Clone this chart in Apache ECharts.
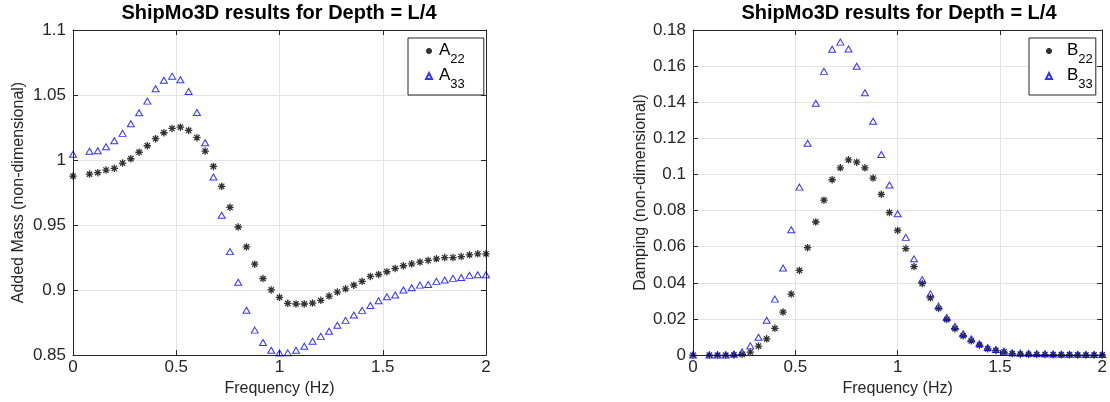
<!DOCTYPE html>
<html>
<head>
<meta charset="utf-8">
<title>ShipMo3D results for Depth = L/4</title>
<script src="https://cdn.jsdelivr.net/npm/echarts@6/dist/echarts.min.js"></script>
<style>
  html, body { margin: 0; padding: 0; background: #ffffff; }
  #chart { width: 1110px; height: 402px; }
</style>
</head>
<body>
<div id="chart"></div>
<script>
// Wave frequency (Hz) at which the coefficients were computed
const freq = [
  0, 0.08, 0.12, 0.16, 0.20, 0.24, 0.28, 0.32, 0.36, 0.40,
  0.44, 0.48, 0.52, 0.56, 0.60, 0.64, 0.68, 0.72, 0.76, 0.80,
  0.84, 0.88, 0.92, 0.96, 1.00, 1.04, 1.08, 1.12, 1.16, 1.20,
  1.24, 1.28, 1.32, 1.36, 1.40, 1.44, 1.48, 1.52, 1.56, 1.60,
  1.64, 1.68, 1.72, 1.76, 1.80, 1.84, 1.88, 1.92, 1.96, 2.00
];

// Added mass coefficients (non-dimensional)
const a22 = [
  0.9877, 0.9892, 0.9903, 0.9923, 0.9936, 0.9977, 1.0010, 1.0060, 1.0110, 1.0164,
  1.0210, 1.0243, 1.0253, 1.0228, 1.0172, 1.0069, 0.9951, 0.9798, 0.9636, 0.9485,
  0.9332, 0.9199, 0.9089, 0.9001, 0.8944, 0.8898, 0.8893, 0.8893, 0.8900, 0.8921,
  0.8954, 0.8985, 0.9010, 0.9038, 0.9067, 0.9105, 0.9120, 0.9141, 0.9166, 0.9187,
  0.9202, 0.9215, 0.9228, 0.9240, 0.9250, 0.9250, 0.9258, 0.9271, 0.9279, 0.9279
];
const a33 = [
  1.0044, 1.0067, 1.0072, 1.0102, 1.0148, 1.0205, 1.0279, 1.0364, 1.0453, 1.0548,
  1.0614, 1.0645, 1.0617, 1.0527, 1.0366, 1.0133, 0.9869, 0.9575, 0.9296, 0.9060,
  0.8845, 0.8692, 0.8597, 0.8537, 0.8516, 0.8517, 0.8537, 0.8568, 0.8606, 0.8644,
  0.8683, 0.8729, 0.8767, 0.8808, 0.8844, 0.8882, 0.8918, 0.8949, 0.8962, 0.9000,
  0.9018, 0.9038, 0.9043, 0.9067, 0.9077, 0.9090, 0.9097, 0.9113, 0.9118, 0.9118
];

// Damping coefficients (non-dimensional)
const b22 = [
  0, 0, 0, 0, 0.0001, 0.0004, 0.0017, 0.0050, 0.0090, 0.0148,
  0.0238, 0.0338, 0.0469, 0.0595, 0.0737, 0.0858, 0.0971, 0.1037, 0.1081, 0.1068,
  0.1037, 0.0980, 0.0890, 0.0789, 0.0690, 0.0590, 0.0490, 0.0396, 0.0317, 0.0258,
  0.0197, 0.0146, 0.0107, 0.0079, 0.0055, 0.0035, 0.0026, 0.0017, 0.0008, 0.0005,
  0.0004, 0.0003, 0.0003, 0.0002, 0.0002, 0.0002, 0.0001, 0.0001, 0.0001, 0.0001
];
const b33 = [
  0, 0, 0, 0, 0.0006, 0.0018, 0.0051, 0.0099, 0.0193, 0.0310,
  0.0482, 0.0694, 0.0930, 0.1173, 0.1394, 0.1571, 0.1693, 0.1733, 0.1695, 0.1599,
  0.1453, 0.1295, 0.1111, 0.0942, 0.0783, 0.0652, 0.0533, 0.0418, 0.0339, 0.0271,
  0.0208, 0.0160, 0.0118, 0.0090, 0.0063, 0.0042, 0.0031, 0.0022, 0.0013, 0.0011,
  0.0010, 0.0008, 0.0007, 0.0006, 0.0005, 0.0004, 0.0004, 0.0003, 0.0003, 0.0003
];

const titleText = 'ShipMo3D results for Depth = L/4';
const xName = 'Frequency (Hz)';
const yNameLeft = 'Added Mass (non-dimensional)';
const yNameRight = 'Damping (non-dimensional)';

const FONT = '"Liberation Sans", Arial, Helvetica, sans-serif';
const AXIS_COLOR = '#262626';
const GRID_COLOR = '#e3e3e3';

// MATLAB-style asterisk marker: vertical, horizontal and two diagonal strokes
const STAR = 'path://M0,-1L0,1M-1,0L1,0M-0.71,-0.71L0.71,0.71M-0.71,0.71L0.71,-0.71';

const zip = (xs, ys) => xs.map((x, i) => [x, ys[i]]);

function mainX(gridIndex) {
  return {
    type: 'value', gridIndex, position: 'bottom',
    min: 0, max: 2, interval: 0.5,
    name: xName, nameLocation: 'middle', nameGap: 22,
    nameTextStyle: { fontFamily: FONT, fontSize: 16, color: AXIS_COLOR },
    axisLine: { show: true, onZero: false, lineStyle: { color: AXIS_COLOR, width: 1 } },
    axisTick: { show: true, inside: true, length: 5, lineStyle: { color: AXIS_COLOR } },
    axisLabel: { fontFamily: FONT, fontSize: 17, color: AXIS_COLOR, margin: 4 },
    splitLine: { show: true, lineStyle: { color: GRID_COLOR, width: 1 } }
  };
}
function boxX(gridIndex) {
  return {
    type: 'value', gridIndex, position: 'top',
    min: 0, max: 2, interval: 0.5,
    axisLine: { show: true, onZero: false, lineStyle: { color: AXIS_COLOR, width: 1 } },
    axisTick: { show: true, inside: true, length: 5, lineStyle: { color: AXIS_COLOR } },
    axisLabel: { show: false },
    splitLine: { show: false }
  };
}
function mainY(gridIndex, min, max, interval, name, gap) {
  return {
    type: 'value', gridIndex, position: 'left',
    min, max, interval,
    name, nameLocation: 'middle', nameGap: gap,
    nameTextStyle: { fontFamily: FONT, fontSize: 16, color: AXIS_COLOR },
    axisLine: { show: true, onZero: false, lineStyle: { color: AXIS_COLOR, width: 1 } },
    axisTick: { show: true, inside: true, length: 5, lineStyle: { color: AXIS_COLOR } },
    axisLabel: { fontFamily: FONT, fontSize: 17, color: AXIS_COLOR, margin: 7 },
    splitLine: { show: true, lineStyle: { color: GRID_COLOR, width: 1 } }
  };
}
function boxY(gridIndex, min, max, interval) {
  return {
    type: 'value', gridIndex, position: 'right',
    min, max, interval,
    axisLine: { show: true, onZero: false, lineStyle: { color: AXIS_COLOR, width: 1 } },
    axisTick: { show: true, inside: true, length: 5, lineStyle: { color: AXIS_COLOR } },
    axisLabel: { show: false },
    splitLine: { show: false }
  };
}

function starSeries(name, xi, yi, data) {
  return {
    name, type: 'scatter', xAxisIndex: xi, yAxisIndex: yi,
    data, symbol: STAR, symbolSize: 7.5, clip: false,
    itemStyle: { color: 'transparent', borderColor: '#000000', borderWidth: 1.3 },
    emphasis: { disabled: true }
  };
}
function triSeries(name, xi, yi, data) {
  return {
    name, type: 'scatter', xAxisIndex: xi, yAxisIndex: yi,
    data, symbol: 'triangle', symbolSize: [7, 6], clip: false,
    itemStyle: { color: 'transparent', borderColor: '#0000ff', borderWidth: 1 },
    emphasis: { disabled: true }
  };
}

// Boxed legend; the letter carries a left pad that sets the gap after the marker
function legendBox(names, left, padding, textPad) {
  return {
    data: names, orient: 'vertical', left, top: 38,
    padding, itemGap: 1, itemWidth: 6, itemHeight: 6,
    backgroundColor: '#ffffff', borderColor: AXIS_COLOR, borderWidth: 1, borderRadius: 0,
    selectedMode: false,
    formatter: n => '{m|' + n.charAt(0) + '}{s|' + n.slice(1) + '}',
    textStyle: {
      rich: {
        m: { fontFamily: FONT, fontSize: 17, color: '#000', lineHeight: 18, verticalAlign: 'top', padding: [0, 0, 0, textPad] },
        s: { fontFamily: FONT, fontSize: 13, color: '#000', lineHeight: 14, verticalAlign: 'top', padding: [11, 0, 0, 0] }
      }
    }
  };
}

const chart = echarts.init(document.getElementById('chart'), null, { renderer: 'canvas' });
chart.setOption({
  animation: false,
  backgroundColor: '#ffffff',
  title: [
    { text: titleText, left: 279, top: 3, padding: 0, textAlign: 'center',
      textStyle: { fontFamily: FONT, fontSize: 20, fontWeight: 'bold', color: '#000' } },
    { text: titleText, left: 899, top: 3, padding: 0, textAlign: 'center',
      textStyle: { fontFamily: FONT, fontSize: 20, fontWeight: 'bold', color: '#000' } }
  ],
  grid: [
    { left: 73, right: 624, top: 30, bottom: 46, containLabel: false },
    { left: 693, right: 4, top: 30, bottom: 46, containLabel: false }
  ],
  xAxis: [mainX(0), boxX(0), mainX(1), boxX(1)],
  yAxis: [
    mainY(0, 0.85, 1.1, 0.05, yNameLeft, 46),
    boxY(0, 0.85, 1.1, 0.05),
    mainY(1, 0, 0.18, 0.02, yNameRight, 44),
    boxY(1, 0, 0.18, 0.02)
  ],
  legend: [
    legendBox(['A22', 'A33'], 408, [4, 19, 4, 17], 2),
    legendBox(['B22', 'B33'], 1029, [4, 3, 4, 16], 10)
  ],
  series: [
    starSeries('A22', 0, 0, zip(freq, a22)),
    triSeries('A33', 0, 0, zip(freq, a33)),
    starSeries('B22', 2, 2, zip(freq, b22)),
    triSeries('B33', 2, 2, zip(freq, b33))
  ]
});
</script>
</body>
</html>
